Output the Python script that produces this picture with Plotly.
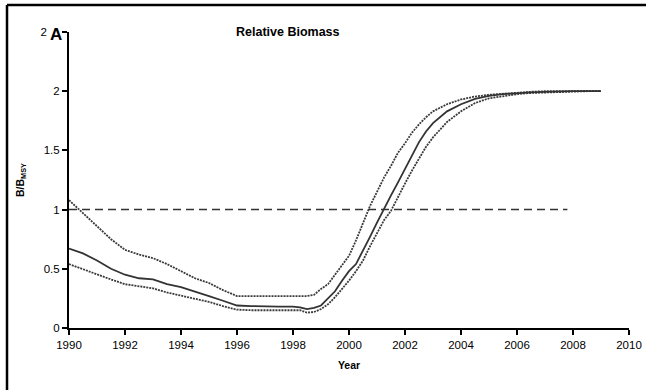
import plotly.graph_objects as go

years = [1990, 1990.5, 1991, 1991.5, 1992, 1992.5, 1993, 1993.5, 1994, 1994.5,
         1995, 1995.5, 1996, 1996.5, 1997, 1997.5, 1998, 1998.25, 1998.5, 1998.75,
         1999, 1999.25, 1999.5, 1999.75, 2000, 2000.25, 2000.5, 2000.75, 2001, 2001.25,
         2001.5, 2001.75, 2002, 2002.25, 2002.5, 2002.75, 2003, 2003.5, 2004, 2004.5,
         2005, 2005.5, 2006, 2006.5, 2007, 2007.5, 2008, 2008.5, 2009]

median = [0.67, 0.63, 0.57, 0.50, 0.45, 0.42, 0.41, 0.37, 0.345, 0.31,
          0.27, 0.23, 0.19, 0.185, 0.18, 0.18, 0.18, 0.175, 0.16, 0.17,
          0.19, 0.25, 0.31, 0.40, 0.48, 0.54, 0.65, 0.77, 0.89, 1.01,
          1.12, 1.23, 1.34, 1.46, 1.57, 1.66, 1.73, 1.83, 1.89, 1.935,
          1.96, 1.975, 1.985, 1.99, 1.995, 2.0, 2.0, 2.0, 2.0]

upper = [1.08, 0.97, 0.86, 0.75, 0.66, 0.62, 0.59, 0.54, 0.48, 0.42,
         0.38, 0.32, 0.27, 0.27, 0.27, 0.27, 0.27, 0.27, 0.27, 0.28,
         0.33, 0.37, 0.45, 0.53, 0.61, 0.74, 0.89, 1.03, 1.15, 1.27,
         1.37, 1.48, 1.56, 1.65, 1.72, 1.78, 1.83, 1.89, 1.93, 1.955,
         1.97, 1.98, 1.99, 1.995, 2.0, 2.0, 2.0, 2.0, 2.0]

lower = [0.54, 0.495, 0.455, 0.41, 0.37, 0.35, 0.335, 0.30, 0.275, 0.245,
         0.22, 0.185, 0.155, 0.15, 0.15, 0.15, 0.15, 0.15, 0.13, 0.135,
         0.16, 0.20, 0.26, 0.33, 0.40, 0.48, 0.57, 0.69, 0.80, 0.91,
         0.99, 1.11, 1.22, 1.33, 1.43, 1.53, 1.61, 1.74, 1.83, 1.90,
         1.94, 1.96, 1.975, 1.985, 1.99, 1.995, 2.0, 2.0, 2.0]

ref_years = [1990, 2007.8]
ref_values = [1, 1]

x_ticks = [1990, 1992, 1994, 1996, 1998, 2000, 2002, 2004, 2006, 2008, 2010]
y_ticks = [0, 0.5, 1, 1.5, 2, 2.5]
y_tick_labels = ["0", "0.5", "1", "1.5", "2", "2\u00a0\u00a0\u00a0\u00a0"]

font_family = "Liberation Sans, Arial, sans-serif"

fig = go.Figure()
fig.add_trace(go.Scatter(x=ref_years, y=ref_values, mode="lines",
                         line=dict(color="#333333", width=1.5, dash="8px,5px"),
                         showlegend=False, hoverinfo="skip"))
fig.add_trace(go.Scatter(x=years, y=upper, mode="lines",
                         line=dict(color="#3a3a3a", width=1.8, dash="2px,1px"),
                         showlegend=False))
fig.add_trace(go.Scatter(x=years, y=lower, mode="lines",
                         line=dict(color="#3a3a3a", width=1.8, dash="2px,1px"),
                         showlegend=False))
fig.add_trace(go.Scatter(x=years, y=median, mode="lines",
                         line=dict(color="#333333", width=1.8),
                         showlegend=False))

axis_common = dict(showgrid=False, zeroline=False, showline=True, linecolor="black",
                   linewidth=2, ticks="outside", ticklen=5, tickwidth=2, tickcolor="black",
                   automargin=False,
                   tickfont=dict(family=font_family, size=11.5, color="black"))

fig.update_xaxes(range=[1990, 2010], tickmode="array", tickvals=x_ticks,
                 ticktext=[str(t) for t in x_ticks],
                 title=dict(text="<b>Year</b>", font=dict(family=font_family, size=10.5, color="black"),
                            standoff=12),
                 **axis_common)
fig.update_yaxes(range=[0, 2.5], tickmode="array", tickvals=y_ticks, ticktext=y_tick_labels,
                 title=dict(text="<b>B/B<sub>MSY</sub></b>", font=dict(family=font_family, size=10.5, color="black"),
                            standoff=14),
                 **axis_common)

fig.update_layout(
    width=646, height=390,
    margin=dict(l=69, r=17, t=32, b=62, pad=0, autoexpand=False),
    plot_bgcolor="white", paper_bgcolor="white",
    font=dict(family=font_family, color="black"),
    annotations=[
        dict(text="<b>Relative Biomass</b>", xref="paper", yref="paper", x=0.391, y=1.0,
             xanchor="center", yanchor="middle", showarrow=False,
             font=dict(family=font_family, size=12.5, color="black")),
        dict(text="<b>A</b>", xref="paper", yref="paper", x=-0.024, y=0.993,
             xanchor="center", yanchor="middle", showarrow=False,
             font=dict(family=font_family, size=17, color="black")),
    ],
    shapes=[
        dict(type="line", xref="paper", yref="paper", x0=-0.1107, x1=1.04, y0=1.0912, y1=1.0912,
             line=dict(color="black", width=2.5)),
        dict(type="line", xref="paper", yref="paper", x0=-0.1107, x1=-0.1107, y0=1.0912, y1=-0.25,
             line=dict(color="black", width=2.5)),
    ],
)

fig.write_html("out.html", config={"displayModeBar": False},
               post_script="document.body.style.margin='0';document.body.style.padding='0';")
